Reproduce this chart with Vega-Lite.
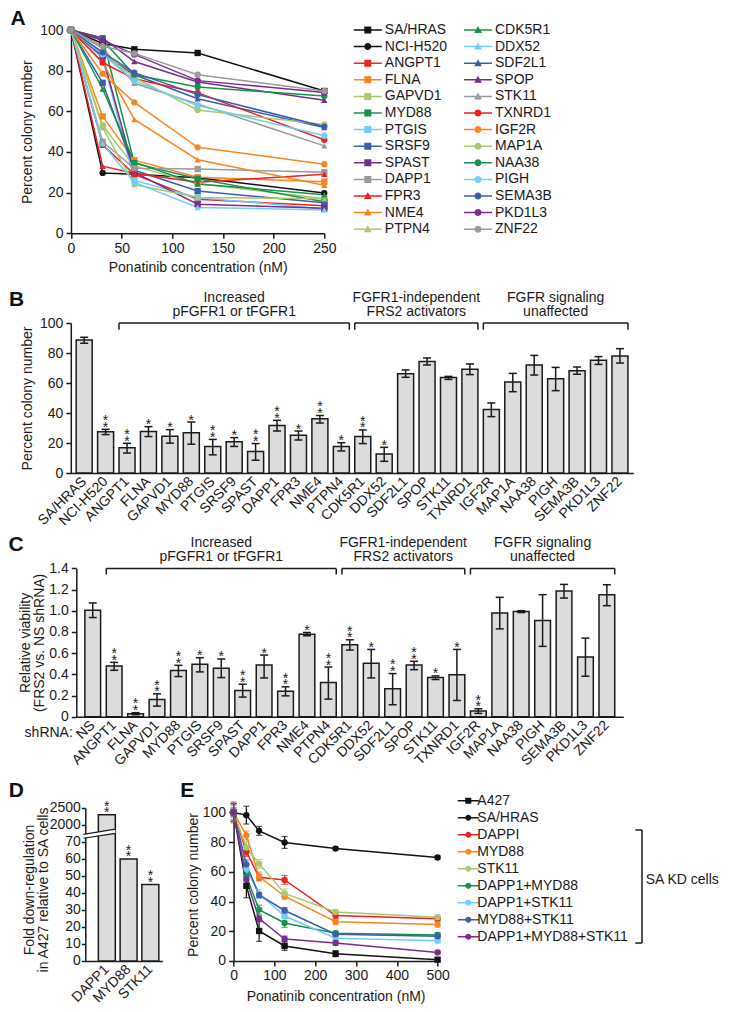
{
"$schema":"https://vega.github.io/schema/vega-lite/v6.json",
"padding":{"left":8.3,"top":7,"right":0,"bottom":0},
"bounds":"flush",
"spacing":86,
"resolve":{"scale":{"color":"independent","shape":"independent","fill":"independent"}},
"config":{
 "view":{"stroke":null},
 "font":"Liberation Sans",
 "axis":{"labelFont":"Liberation Sans","titleFont":"Liberation Sans","labelFontSize":14,"titleFontSize":14,"titleFontWeight":"normal","labelColor":"#1a1a1a","titleColor":"#1a1a1a","domainColor":"#1a1a1a","tickColor":"#1a1a1a","domainWidth":1.5,"tickWidth":1.5,"tickSize":5,"grid":false,"labelPadding":3,"labelFlush":false,"labelOverlap":false,"titleBaseline":"middle","titleLineHeight":14},
 "legend":{"labelFont":"Liberation Sans","labelFontSize":14,"labelColor":"#1a1a1a"},
 "text":{"font":"Liberation Sans","fontSize":14,"color":"#1a1a1a"}
},
"vconcat":[
{
 "width":257,"height":203.3,
 "data":{"values":[
  {"s":"SA/HRAS","c":0,"v":100},{"s":"SA/HRAS","c":31.25,"v":93.4},{"s":"SA/HRAS","c":62.5,"v":90.5},{"s":"SA/HRAS","c":125,"v":88.7},{"s":"SA/HRAS","c":250,"v":70},
  {"s":"NCI-H520","c":0,"v":100},{"s":"NCI-H520","c":31.25,"v":29.7},{"s":"NCI-H520","c":62.5,"v":29},{"s":"NCI-H520","c":125,"v":27.3},{"s":"NCI-H520","c":250,"v":19.8},
  {"s":"ANGPT1","c":0,"v":100},{"s":"ANGPT1","c":31.25,"v":43.5},{"s":"ANGPT1","c":62.5,"v":29},{"s":"ANGPT1","c":125,"v":16.8},{"s":"ANGPT1","c":250,"v":13.5},
  {"s":"FLNA","c":0,"v":100},{"s":"FLNA","c":31.25,"v":57.5},{"s":"FLNA","c":62.5,"v":36},{"s":"FLNA","c":125,"v":27.6},{"s":"FLNA","c":250,"v":25.4},
  {"s":"GAPVD1","c":0,"v":100},{"s":"GAPVD1","c":31.25,"v":53},{"s":"GAPVD1","c":62.5,"v":33},{"s":"GAPVD1","c":125,"v":24.5},{"s":"GAPVD1","c":250,"v":17},
  {"s":"MYD88","c":0,"v":100},{"s":"MYD88","c":31.25,"v":96},{"s":"MYD88","c":62.5,"v":34.5},{"s":"MYD88","c":125,"v":26.8},{"s":"MYD88","c":250,"v":15.5},
  {"s":"PTGIS","c":0,"v":100},{"s":"PTGIS","c":31.25,"v":86},{"s":"PTGIS","c":62.5,"v":26},{"s":"PTGIS","c":125,"v":17.6},{"s":"PTGIS","c":250,"v":12},
  {"s":"SRSF9","c":0,"v":100},{"s":"SRSF9","c":31.25,"v":74},{"s":"SRSF9","c":62.5,"v":31},{"s":"SRSF9","c":125,"v":20.8},{"s":"SRSF9","c":250,"v":15},
  {"s":"SPAST","c":0,"v":100},{"s":"SPAST","c":31.25,"v":87},{"s":"SPAST","c":62.5,"v":30},{"s":"SPAST","c":125,"v":14.3},{"s":"SPAST","c":250,"v":12.3},
  {"s":"DAPP1","c":0,"v":100},{"s":"DAPP1","c":31.25,"v":45},{"s":"DAPP1","c":62.5,"v":32},{"s":"DAPP1","c":125,"v":31.6},{"s":"DAPP1","c":250,"v":30},
  {"s":"FPR3","c":0,"v":100},{"s":"FPR3","c":31.25,"v":33},{"s":"FPR3","c":62.5,"v":29.5},{"s":"FPR3","c":125,"v":25.1},{"s":"FPR3","c":250,"v":29},
  {"s":"NME4","c":0,"v":100},{"s":"NME4","c":31.25,"v":84},{"s":"NME4","c":62.5,"v":56},{"s":"NME4","c":125,"v":36.2},{"s":"NME4","c":250,"v":23.6},
  {"s":"PTPN4","c":0,"v":100},{"s":"PTPN4","c":31.25,"v":52},{"s":"PTPN4","c":62.5,"v":24},{"s":"PTPN4","c":125,"v":17.6},{"s":"PTPN4","c":250,"v":17},
  {"s":"CDK5R1","c":0,"v":100},{"s":"CDK5R1","c":31.25,"v":71},{"s":"CDK5R1","c":62.5,"v":35},{"s":"CDK5R1","c":125,"v":24.3},{"s":"CDK5R1","c":250,"v":19},
  {"s":"DDX52","c":0,"v":100},{"s":"DDX52","c":31.25,"v":44},{"s":"DDX52","c":62.5,"v":25},{"s":"DDX52","c":125,"v":12.7},{"s":"DDX52","c":250,"v":11.5},
  {"s":"SDF2L1","c":0,"v":100},{"s":"SDF2L1","c":31.25,"v":88},{"s":"SDF2L1","c":62.5,"v":78},{"s":"SDF2L1","c":125,"v":66.2},{"s":"SDF2L1","c":250,"v":52},
  {"s":"SPOP","c":0,"v":100},{"s":"SPOP","c":31.25,"v":96},{"s":"SPOP","c":62.5,"v":84.5},{"s":"SPOP","c":125,"v":74.4},{"s":"SPOP","c":250,"v":65.5},
  {"s":"STK11","c":0,"v":100},{"s":"STK11","c":31.25,"v":91},{"s":"STK11","c":62.5,"v":73.8},{"s":"STK11","c":125,"v":63.6},{"s":"STK11","c":250,"v":43},
  {"s":"TXNRD1","c":0,"v":100},{"s":"TXNRD1","c":31.25,"v":84},{"s":"TXNRD1","c":62.5,"v":76},{"s":"TXNRD1","c":125,"v":69.1},{"s":"TXNRD1","c":250,"v":46},
  {"s":"IGF2R","c":0,"v":100},{"s":"IGF2R","c":31.25,"v":78.5},{"s":"IGF2R","c":62.5,"v":64.4},{"s":"IGF2R","c":125,"v":42.3},{"s":"IGF2R","c":250,"v":34},
  {"s":"MAP1A","c":0,"v":100},{"s":"MAP1A","c":31.25,"v":89},{"s":"MAP1A","c":62.5,"v":76.5},{"s":"MAP1A","c":125,"v":60.7},{"s":"MAP1A","c":250,"v":53.5},
  {"s":"NAA38","c":0,"v":100},{"s":"NAA38","c":31.25,"v":95},{"s":"NAA38","c":62.5,"v":78},{"s":"NAA38","c":125,"v":72},{"s":"NAA38","c":250,"v":67.5},
  {"s":"PIGH","c":0,"v":100},{"s":"PIGH","c":31.25,"v":88},{"s":"PIGH","c":62.5,"v":75},{"s":"PIGH","c":125,"v":62.9},{"s":"PIGH","c":250,"v":48},
  {"s":"SEMA3B","c":0,"v":100},{"s":"SEMA3B","c":31.25,"v":89},{"s":"SEMA3B","c":62.5,"v":79},{"s":"SEMA3B","c":125,"v":68.2},{"s":"SEMA3B","c":250,"v":52.5},
  {"s":"PKD1L3","c":0,"v":100},{"s":"PKD1L3","c":31.25,"v":95},{"s":"PKD1L3","c":62.5,"v":88},{"s":"PKD1L3","c":125,"v":75.1},{"s":"PKD1L3","c":250,"v":69.3},
  {"s":"ZNF22","c":0,"v":100},{"s":"ZNF22","c":31.25,"v":92},{"s":"ZNF22","c":62.5,"v":88.5},{"s":"ZNF22","c":125,"v":78},{"s":"ZNF22","c":250,"v":70}
 ]},
 "resolve":{"scale":{"shape":"independent","fill":"independent"}},
 "layer":[
  {"mark":{"type":"line","strokeWidth":1.5},
   "encoding":{
    "x":{"field":"c","type":"quantitative","scale":{"domain":[0,250],"range":[3.7,257],"nice":false,"zero":false},"axis":{"values":[0,50,100,150,200,250],"tickCount":20,"title":"Ponatinib concentration (nM)","titleY":34}},
    "y":{"field":"v","type":"quantitative","scale":{"domain":[0,100],"nice":false},"axis":{"values":[0,20,40,60,80,100],"tickCount":20,"offset":-3.7,"title":"Percent colony number","titleX":-43.2,"titleY":101.65}},
    "color":{"field":"s","type":"nominal","legend":null,"scale":{"domain":["SA/HRAS","NCI-H520","ANGPT1","FLNA","GAPVD1","MYD88","PTGIS","SRSF9","SPAST","DAPP1","FPR3","NME4","PTPN4","CDK5R1","DDX52","SDF2L1","SPOP","STK11","TXNRD1","IGF2R","MAP1A","NAA38","PIGH","SEMA3B","PKD1L3","ZNF22"],"range":["#111111","#111111","#ed2024","#f7861f","#a9c96d","#16924a","#72cdf4","#3c5da8","#7a2c8c","#9a9a9a","#ed2024","#f7861f","#a9c96d","#16924a","#72cdf4","#3c5da8","#7a2c8c","#9a9a9a","#ed2024","#f7861f","#a9c96d","#16924a","#72cdf4","#3c5da8","#7a2c8c","#9a9a9a"]}}}},
  {"mark":{"type":"point","filled":true,"size":40,"opacity":1},
   "encoding":{
    "x":{"field":"c","type":"quantitative"},
    "y":{"field":"v","type":"quantitative"},
    "color":{"field":"s","type":"nominal","legend":null},
    "shape":{"field":"s","type":"nominal","legend":null,"scale":{"domain":["SA/HRAS","NCI-H520","ANGPT1","FLNA","GAPVD1","MYD88","PTGIS","SRSF9","SPAST","DAPP1","FPR3","NME4","PTPN4","CDK5R1","DDX52","SDF2L1","SPOP","STK11","TXNRD1","IGF2R","MAP1A","NAA38","PIGH","SEMA3B","PKD1L3","ZNF22"],"range":["square","circle","square","square","square","square","square","square","square","square","triangle-up","triangle-up","triangle-up","triangle-up","triangle-up","triangle-up","triangle-up","triangle-up","circle","circle","circle","circle","circle","circle","circle","circle"]}}}},
  {"transform":[{"filter":"false"}],
   "mark":{"type":"point","filled":true,"opacity":1,"strokeWidth":0},
   "encoding":{
    "x":{"field":"c","type":"quantitative"},
    "y":{"field":"v","type":"quantitative"},
    "fill":{"field":"s","type":"nominal","scale":{"domain":["SA/HRAS","NCI-H520","ANGPT1","FLNA","GAPVD1","MYD88","PTGIS","SRSF9","SPAST","DAPP1","FPR3","NME4","PTPN4","CDK5R1","DDX52","SDF2L1","SPOP","STK11","TXNRD1","IGF2R","MAP1A","NAA38","PIGH","SEMA3B","PKD1L3","ZNF22"],"range":["#111111","#111111","#ed2024","#f7861f","#a9c96d","#16924a","#72cdf4","#3c5da8","#7a2c8c","#9a9a9a","#ed2024","#f7861f","#a9c96d","#16924a","#72cdf4","#3c5da8","#7a2c8c","#9a9a9a","#ed2024","#f7861f","#a9c96d","#16924a","#72cdf4","#3c5da8","#7a2c8c","#9a9a9a"]},
      "legend":{"orient":"none","legendX":293.5,"legendY":-7,"columns":2,"title":null,"symbolSize":49,"symbolStrokeWidth":0,"labelOffset":10,"rowPadding":2.6,"columnPadding":16.2,"symbolOpacity":1}},
    "shape":{"field":"s","type":"nominal","scale":{"domain":["SA/HRAS","NCI-H520","ANGPT1","FLNA","GAPVD1","MYD88","PTGIS","SRSF9","SPAST","DAPP1","FPR3","NME4","PTPN4","CDK5R1","DDX52","SDF2L1","SPOP","STK11","TXNRD1","IGF2R","MAP1A","NAA38","PIGH","SEMA3B","PKD1L3","ZNF22"],"range":["M-4,-0.21H4V0.21H-4ZM-1,-1H1V1H-1Z","M-4,-0.21H4V0.21H-4ZM1,0A1,1,0,1,1,-1,0A1,1,0,1,1,1,0Z","M-4,-0.21H4V0.21H-4ZM-1,-1H1V1H-1Z","M-4,-0.21H4V0.21H-4ZM-1,-1H1V1H-1Z","M-4,-0.21H4V0.21H-4ZM-1,-1H1V1H-1Z","M-4,-0.21H4V0.21H-4ZM-1,-1H1V1H-1Z","M-4,-0.21H4V0.21H-4ZM-1,-1H1V1H-1Z","M-4,-0.21H4V0.21H-4ZM-1,-1H1V1H-1Z","M-4,-0.21H4V0.21H-4ZM-1,-1H1V1H-1Z","M-4,-0.21H4V0.21H-4ZM-1,-1H1V1H-1Z","M-4,-0.21H4V0.21H-4ZM0,-1.15L1.1,0.85H-1.1Z","M-4,-0.21H4V0.21H-4ZM0,-1.15L1.1,0.85H-1.1Z","M-4,-0.21H4V0.21H-4ZM0,-1.15L1.1,0.85H-1.1Z","M-4,-0.21H4V0.21H-4ZM0,-1.15L1.1,0.85H-1.1Z","M-4,-0.21H4V0.21H-4ZM0,-1.15L1.1,0.85H-1.1Z","M-4,-0.21H4V0.21H-4ZM0,-1.15L1.1,0.85H-1.1Z","M-4,-0.21H4V0.21H-4ZM0,-1.15L1.1,0.85H-1.1Z","M-4,-0.21H4V0.21H-4ZM0,-1.15L1.1,0.85H-1.1Z","M-4,-0.21H4V0.21H-4ZM1,0A1,1,0,1,1,-1,0A1,1,0,1,1,1,0Z","M-4,-0.21H4V0.21H-4ZM1,0A1,1,0,1,1,-1,0A1,1,0,1,1,1,0Z","M-4,-0.21H4V0.21H-4ZM1,0A1,1,0,1,1,-1,0A1,1,0,1,1,1,0Z","M-4,-0.21H4V0.21H-4ZM1,0A1,1,0,1,1,-1,0A1,1,0,1,1,1,0Z","M-4,-0.21H4V0.21H-4ZM1,0A1,1,0,1,1,-1,0A1,1,0,1,1,1,0Z","M-4,-0.21H4V0.21H-4ZM1,0A1,1,0,1,1,-1,0A1,1,0,1,1,1,0Z","M-4,-0.21H4V0.21H-4ZM1,0A1,1,0,1,1,-1,0A1,1,0,1,1,1,0Z","M-4,-0.21H4V0.21H-4ZM1,0A1,1,0,1,1,-1,0A1,1,0,1,1,1,0Z"]},
      "legend":{"orient":"none","legendX":293.5,"legendY":-7,"columns":2,"title":null,"symbolSize":49,"symbolStrokeWidth":0,"labelOffset":10,"rowPadding":2.6,"columnPadding":16.2,"symbolOpacity":1}}
   }},
  {"data":{"values":[{}]},"mark":{"type":"text","align":"left","baseline":"alphabetic","fontSize":21,"fontWeight":"bold","color":"#111111"},
   "encoding":{"x":{"datum":-59.7},"y":{"datum":102.5},"text":{"value":"A"}}}
 ]
},
{
 "width":566,"height":153,
 "data":{"values":[
    {"g":"SA/HRAS","v":88.7,"lo":86.5,"hi":90.5,"n":0},
    {"g":"NCI-H520","v":27.5,"lo":25.6,"hi":29.1,"n":2},
    {"g":"ANGPT1","v":16.8,"lo":13.3,"hi":19.8,"n":2},
    {"g":"FLNA","v":27.6,"lo":24.3,"hi":30.9,"n":1},
    {"g":"GAPVD1","v":24.5,"lo":19.9,"hi":28.9,"n":1},
    {"g":"MYD88","v":26.8,"lo":19.2,"hi":34.0,"n":1},
    {"g":"PTGIS","v":17.6,"lo":12.1,"hi":22.4,"n":2},
    {"g":"SRSF9","v":20.8,"lo":17.7,"hi":23.6,"n":1},
    {"g":"SPAST","v":14.3,"lo":8.5,"hi":19.6,"n":2},
    {"g":"DAPP1","v":31.6,"lo":28.0,"hi":35.1,"n":2},
    {"g":"FPR3","v":25.1,"lo":22.0,"hi":28.0,"n":1},
    {"g":"NME4","v":36.2,"lo":33.3,"hi":38.4,"n":2},
    {"g":"PTPN4","v":17.6,"lo":14.7,"hi":20.2,"n":1},
    {"g":"CDK5R1","v":24.3,"lo":19.6,"hi":28.7,"n":2},
    {"g":"DDX52","v":12.7,"lo":7.8,"hi":17.1,"n":1},
    {"g":"SDF2L1","v":66.2,"lo":63.8,"hi":68.7,"n":0},
    {"g":"SPOP","v":74.4,"lo":72.0,"hi":76.7,"n":0},
    {"g":"STK11","v":63.6,"lo":62.4,"hi":64.4,"n":0},
    {"g":"TXNRD1","v":69.1,"lo":65.6,"hi":72.7,"n":0},
    {"g":"IGF2R","v":42.3,"lo":37.6,"hi":46.7,"n":0},
    {"g":"MAP1A","v":60.7,"lo":54.2,"hi":66.4,"n":0},
    {"g":"NAA38","v":72.0,"lo":65.3,"hi":78.4,"n":0},
    {"g":"PIGH","v":62.9,"lo":54.9,"hi":70.4,"n":0},
    {"g":"SEMA3B","v":68.2,"lo":65.8,"hi":70.7,"n":0},
    {"g":"PKD1L3","v":75.1,"lo":72.4,"hi":77.6,"n":0},
    {"g":"ZNF22","v":78.0,"lo":73.3,"hi":82.9,"n":0}
 ]},
 "layer":[
  {"mark":{"type":"bar","fill":"#dcdcdc","stroke":"#1a1a1a","strokeWidth":1.5},
   "encoding":{
    "x":{"field":"g","type":"nominal","sort":null,"scale":{"domain":["SA/HRAS","NCI-H520","ANGPT1","FLNA","GAPVD1","MYD88","PTGIS","SRSF9","SPAST","DAPP1","FPR3","NME4","PTPN4","CDK5R1","DDX52","SDF2L1","SPOP","STK11","TXNRD1","IGF2R","MAP1A","NAA38","PIGH","SEMA3B","PKD1L3","ZNF22"],"range":[3.5,566],"paddingInner":0.253,"paddingOuter":0.25},"axis":{"title":null,"labelAngle":-45,"labelAlign":"right","labelBaseline":"middle","ticks":false,"labelPadding":6}},
    "y":{"field":"v","type":"quantitative","scale":{"domain":[0,100],"range":[153,3],"nice":false},"axis":{"offset":-3.5,"values":[0,20,40,60,80,100],"tickCount":20,"labelOverlap":false,"title":"Percent colony number","titleX":-43,"titleY":78}}}},
  {"mark":{"type":"rule","strokeWidth":1.5,"color":"#1a1a1a"},
   "encoding":{"x":{"field":"g","type":"nominal"},"y":{"field":"lo","type":"quantitative"},"y2":{"field":"hi"}}},
  {"mark":{"type":"tick","size":8,"thickness":1.5,"color":"#1a1a1a","opacity":1},
   "encoding":{"x":{"field":"g","type":"nominal"},"y":{"field":"lo","type":"quantitative"}}},
  {"mark":{"type":"tick","size":8,"thickness":1.5,"color":"#1a1a1a","opacity":1},
   "encoding":{"x":{"field":"g","type":"nominal"},"y":{"field":"hi","type":"quantitative"}}},
  {"transform":[{"filter":"datum.n >= 1"}],"mark":{"type":"text","baseline":"bottom","dy":5.5},
   "encoding":{"x":{"field":"g","type":"nominal"},"y":{"field":"hi","type":"quantitative"},"text":{"value":"*"}}},
  {"transform":[{"filter":"datum.n >= 2"}],"mark":{"type":"text","baseline":"bottom","dy":-1.2},
   "encoding":{"x":{"field":"g","type":"nominal"},"y":{"field":"hi","type":"quantitative"},"text":{"value":"*"}}},
  {"data":{"values":[{"a":"ANGPT1","b":"PTPN4"},{"a":"CDK5R1","b":"TXNRD1"},{"a":"IGF2R","b":"ZNF22"}]},
   "mark":{"type":"rule","strokeWidth":1.5,"color":"#1a1a1a"},"encoding":{"x":{"field":"a","type":"nominal","bandPosition":0},"x2":{"field":"b","bandPosition":1},"y":{"datum":100}}},
  {"data":{"values":[{"a":"ANGPT1","b":"PTPN4"},{"a":"CDK5R1","b":"TXNRD1"},{"a":"IGF2R","b":"ZNF22"}]},
   "mark":{"type":"rule","strokeWidth":1.5,"color":"#1a1a1a"},"encoding":{"x":{"field":"a","type":"nominal","bandPosition":0},"y":{"datum":100},"y2":{"datum":95.5}}},
  {"data":{"values":[{"a":"ANGPT1","b":"PTPN4"},{"a":"CDK5R1","b":"TXNRD1"},{"a":"IGF2R","b":"ZNF22"}]},
   "mark":{"type":"rule","strokeWidth":1.5,"color":"#1a1a1a"},"encoding":{"x":{"field":"b","type":"nominal","bandPosition":1},"y":{"datum":100},"y2":{"datum":95.5}}},
  {"data":{"values":[{"m":"SRSF9","t":["Increased","pFGFR1 or tFGFR1"]},{"m":"PIGH","t":["FGFR signaling","unaffected"]}]},
   "mark":{"type":"text","baseline":"middle","lineHeight":14.5},"encoding":{"x":{"field":"m","type":"nominal","bandPosition":0.5},"y":{"datum":117},"text":{"field":"t"}}},
  {"data":{"values":[{"m":"SDF2L1","t":["FGFR1-independent","FRS2 activators"]}]},
   "mark":{"type":"text","baseline":"middle","lineHeight":14.5},"encoding":{"x":{"field":"m","type":"nominal","bandPosition":1.17},"y":{"datum":117},"text":{"field":"t"}}},
  {"data":{"values":[{}]},"mark":{"type":"text","align":"left","baseline":"alphabetic","fontSize":21,"fontWeight":"bold","color":"#111111"},
   "encoding":{"x":{"datum":"SA/HRAS","bandPosition":-4.2},"y":{"datum":111.5},"text":{"value":"B"}}}
 ]
},
{
 "width":556,"height":157.7,
 "data":{"values":[
    {"g":"NS","v":1.005,"lo":0.936,"hi":1.074,"n":0},
    {"g":"ANGPT1","v":0.479,"lo":0.438,"hi":0.513,"n":2},
    {"g":"FLNA","v":0.028,"lo":0.019,"hi":0.038,"n":2},
    {"g":"GAPVD1","v":0.163,"lo":0.10,"hi":0.216,"n":2},
    {"g":"MYD88","v":0.435,"lo":0.379,"hi":0.485,"n":2},
    {"g":"PTGIS","v":0.495,"lo":0.423,"hi":0.557,"n":1},
    {"g":"SRSF9","v":0.457,"lo":0.369,"hi":0.545,"n":1},
    {"g":"SPAST","v":0.247,"lo":0.185,"hi":0.307,"n":2},
    {"g":"DAPP1","v":0.488,"lo":0.366,"hi":0.582,"n":1},
    {"g":"FPR3","v":0.241,"lo":0.197,"hi":0.282,"n":2},
    {"g":"NME4","v":0.779,"lo":0.764,"hi":0.795,"n":1},
    {"g":"PTPN4","v":0.322,"lo":0.166,"hi":0.469,"n":2},
    {"g":"CDK5R1","v":0.679,"lo":0.629,"hi":0.726,"n":2},
    {"g":"DDX52","v":0.504,"lo":0.366,"hi":0.635,"n":1},
    {"g":"SDF2L1","v":0.263,"lo":0.113,"hi":0.407,"n":2},
    {"g":"SPOP","v":0.488,"lo":0.444,"hi":0.523,"n":2},
    {"g":"STK11","v":0.369,"lo":0.351,"hi":0.385,"n":1},
    {"g":"TXNRD1","v":0.397,"lo":0.153,"hi":0.635,"n":1},
    {"g":"IGF2R","v":0.053,"lo":0.031,"hi":0.075,"n":2},
    {"g":"MAP1A","v":0.98,"lo":0.829,"hi":1.127,"n":0},
    {"g":"NAA38","v":0.992,"lo":0.983,"hi":1.0,"n":0},
    {"g":"PIGH","v":0.908,"lo":0.664,"hi":1.152,"n":0},
    {"g":"SEMA3B","v":1.186,"lo":1.12,"hi":1.249,"n":0},
    {"g":"PKD1L3","v":0.563,"lo":0.382,"hi":0.742,"n":0},
    {"g":"ZNF22","v":1.152,"lo":1.048,"hi":1.246,"n":0}
 ]},
 "layer":[
  {"mark":{"type":"bar","fill":"#dcdcdc","stroke":"#1a1a1a","strokeWidth":1.5},
   "encoding":{
    "x":{"field":"g","type":"nominal","sort":null,"scale":{"domain":["NS","ANGPT1","FLNA","GAPVD1","MYD88","PTGIS","SRSF9","SPAST","DAPP1","FPR3","NME4","PTPN4","CDK5R1","DDX52","SDF2L1","SPOP","STK11","TXNRD1","IGF2R","MAP1A","NAA38","PIGH","SEMA3B","PKD1L3","ZNF22"],"range":[9,556],"paddingInner":0.266,"paddingOuter":0.4},"axis":{"title":"shRNA:","titleX":5,"titleY":16,"titleAlign":"right","titleAngle":0,"labelAngle":-45,"labelAlign":"right","labelBaseline":"middle","ticks":false,"labelPadding":6}},
    "y":{"field":"v","type":"quantitative","scale":{"domain":[0,1.4],"range":[157.7,9.4],"nice":false},"axis":{"offset":-9,"values":[0,0.2,0.4,0.6,0.8,1.0,1.2,1.4],"tickCount":20,"labelOverlap":false,"labelExpr":"datum.value == 0 ? '0' : format(datum.value, '.1f')","title":["Relative viability","(FRS2 vs. NS shRNA)"],"titleX":-51,"titleY":83.4}}}},
  {"mark":{"type":"rule","strokeWidth":1.5,"color":"#1a1a1a"},
   "encoding":{"x":{"field":"g","type":"nominal"},"y":{"field":"lo","type":"quantitative"},"y2":{"field":"hi"}}},
  {"mark":{"type":"tick","size":8,"thickness":1.5,"color":"#1a1a1a","opacity":1},
   "encoding":{"x":{"field":"g","type":"nominal"},"y":{"field":"lo","type":"quantitative"}}},
  {"mark":{"type":"tick","size":8,"thickness":1.5,"color":"#1a1a1a","opacity":1},
   "encoding":{"x":{"field":"g","type":"nominal"},"y":{"field":"hi","type":"quantitative"}}},
  {"transform":[{"filter":"datum.n >= 1"}],"mark":{"type":"text","baseline":"bottom","dy":5.5},
   "encoding":{"x":{"field":"g","type":"nominal"},"y":{"field":"hi","type":"quantitative"},"text":{"value":"*"}}},
  {"transform":[{"filter":"datum.n >= 2"}],"mark":{"type":"text","baseline":"bottom","dy":-1.2},
   "encoding":{"x":{"field":"g","type":"nominal"},"y":{"field":"hi","type":"quantitative"},"text":{"value":"*"}}},
  {"data":{"values":[{"a":"ANGPT1","b":"PTPN4"},{"a":"CDK5R1","b":"TXNRD1"},{"a":"IGF2R","b":"ZNF22"}]},
   "mark":{"type":"rule","strokeWidth":1.5,"color":"#1a1a1a"},"encoding":{"x":{"field":"a","type":"nominal","bandPosition":0},"x2":{"field":"b","bandPosition":1},"y":{"datum":1.4}}},
  {"data":{"values":[{"a":"ANGPT1","b":"PTPN4"},{"a":"CDK5R1","b":"TXNRD1"},{"a":"IGF2R","b":"ZNF22"}]},
   "mark":{"type":"rule","strokeWidth":1.5,"color":"#1a1a1a"},"encoding":{"x":{"field":"a","type":"nominal","bandPosition":0},"y":{"datum":1.4},"y2":{"datum":1.343}}},
  {"data":{"values":[{"a":"ANGPT1","b":"PTPN4"},{"a":"CDK5R1","b":"TXNRD1"},{"a":"IGF2R","b":"ZNF22"}]},
   "mark":{"type":"rule","strokeWidth":1.5,"color":"#1a1a1a"},"encoding":{"x":{"field":"b","type":"nominal","bandPosition":1},"y":{"datum":1.4},"y2":{"datum":1.343}}},
  {"data":{"values":[{"m":"SRSF9","t":["Increased","pFGFR1 or tFGFR1"]},{"m":"PIGH","t":["FGFR signaling","unaffected"]}]},
   "mark":{"type":"text","baseline":"middle","lineHeight":14.5},"encoding":{"x":{"field":"m","type":"nominal","bandPosition":0.5},"y":{"datum":1.643},"text":{"field":"t"}}},
  {"data":{"values":[{"m":"SDF2L1","t":["FGFR1-independent","FRS2 activators"]}]},
   "mark":{"type":"text","baseline":"middle","lineHeight":14.5},"encoding":{"x":{"field":"m","type":"nominal","bandPosition":1.17},"y":{"datum":1.643},"text":{"field":"t"}}},
  {"data":{"values":[{}]},"mark":{"type":"text","align":"left","baseline":"alphabetic","fontSize":21,"fontWeight":"bold","color":"#111111"},
   "encoding":{"x":{"datum":"NS","bandPosition":-4.85},"y":{"datum":1.567},"text":{"value":"C"}}}
 ]
},
{
 "width":370.3,"height":158,
 "resolve":{"scale":{"x":"independent","y":"independent"},"axis":{"x":"independent","y":"independent"}},
 "layer":[
  {"data":{"values":[
     {"g":"DAPP1","v":2300,"n":2},
     {"g":"MYD88","v":60,"n":2},
     {"g":"STK11","v":45,"n":2}
   ]},
   "layer":[
    {"mark":{"type":"bar","fill":"#dcdcdc","stroke":"#1a1a1a","strokeWidth":1.5},
     "encoding":{
      "x":{"field":"g","type":"nominal","sort":null,"scale":{"domain":["DAPP1","MYD88","STK11"],"range":[18,95],"paddingInner":0.22,"paddingOuter":0.38,"align":0.79},"axis":{"orient":"bottom","title":null,"labelAngle":-45,"labelAlign":"right","labelBaseline":"middle","ticks":false,"labelPadding":6}},
      "y":{"field":"v","type":"quantitative","scale":{"domain":[0,75,2000,2500],"range":[158,30.5,21.8,5],"nice":false,"zero":false},"axis":{"orient":"left","offset":-18,"values":[0,10,20,30,40,50,60,70,2000,2500],"format":"d","tickCount":20,"tickSize":4,"labelPadding":1,"labelOverlap":false,"title":["Fold down-regulation","in A427 relative to SA cells"],"titleX":-55.5,"titleY":86.5}}}},
    {"transform":[{"filter":"datum.n >= 1"}],"mark":{"type":"text","baseline":"bottom","dy":5.5},
     "encoding":{"x":{"field":"g","type":"nominal"},"y":{"field":"v","type":"quantitative"},"text":{"value":"*"}}},
    {"transform":[{"filter":"datum.n >= 2"}],"mark":{"type":"text","baseline":"bottom","dy":-1.2},
     "encoding":{"x":{"field":"g","type":"nominal"},"y":{"field":"v","type":"quantitative"},"text":{"value":"*"}}},
    {"data":{"values":[{}]},"mark":{"type":"rule","stroke":"white","strokeWidth":3.5},
     "encoding":{"x":{"datum":"DAPP1","bandPosition":-0.88},"x2":{"datum":"DAPP1","bandPosition":1},"y":{"datum":73.4},"y2":{"datum":573}}},
    {"data":{"values":[{}]},"mark":{"type":"rule","stroke":"#1a1a1a","strokeWidth":1.2},
     "encoding":{"x":{"datum":"DAPP1","bandPosition":-0.88},"x2":{"datum":"DAPP1","bandPosition":1},"y":{"datum":72.2},"y2":{"datum":120}}},
    {"data":{"values":[{}]},"mark":{"type":"rule","stroke":"#1a1a1a","strokeWidth":1.2},
     "encoding":{"x":{"datum":"DAPP1","bandPosition":-0.88},"x2":{"datum":"DAPP1","bandPosition":1},"y":{"datum":74.5},"y2":{"datum":1026}}},
    {"data":{"values":[{}]},"mark":{"type":"text","align":"left","baseline":"alphabetic","fontSize":21,"fontWeight":"bold","color":"#111111"},
     "encoding":{"x":{"datum":"DAPP1","bandPosition":-5.28},"y":{"datum":2827},"text":{"value":"D"}}}
   ]},
  {"data":{"values":[
      {"s":"A427","c":0,"v":100,"e":3},{"s":"A427","c":31.25,"v":50.6,"e":8},{"s":"A427","c":62.5,"v":20.2,"e":7},{"s":"A427","c":125,"v":10.1,"e":3},{"s":"A427","c":250,"v":4.9,"e":2},{"s":"A427","c":500,"v":0.9,"e":1},
      {"s":"SA/HRAS","c":0,"v":100,"e":1},{"s":"SA/HRAS","c":31.25,"v":98.2,"e":6},{"s":"SA/HRAS","c":62.5,"v":87.6,"e":3},{"s":"SA/HRAS","c":125,"v":79.8,"e":4},{"s":"SA/HRAS","c":250,"v":75.7,"e":1},{"s":"SA/HRAS","c":500,"v":69.7,"e":1},
      {"s":"DAPPI","c":0,"v":100,"e":7},{"s":"DAPPI","c":31.25,"v":73.5,"e":3},{"s":"DAPPI","c":62.5,"v":56.4,"e":2},{"s":"DAPPI","c":125,"v":54.6,"e":3},{"s":"DAPPI","c":250,"v":30.6,"e":2},{"s":"DAPPI","c":500,"v":28.5,"e":1.5},
      {"s":"MYD88","c":0,"v":100,"e":6},{"s":"MYD88","c":31.25,"v":84.5,"e":3},{"s":"MYD88","c":62.5,"v":56.8,"e":3},{"s":"MYD88","c":125,"v":43.6,"e":2},{"s":"MYD88","c":250,"v":26.5,"e":2},{"s":"MYD88","c":500,"v":24.5,"e":1.5},
      {"s":"STK11","c":0,"v":100,"e":6},{"s":"STK11","c":31.25,"v":76.4,"e":4},{"s":"STK11","c":62.5,"v":65.4,"e":3},{"s":"STK11","c":125,"v":45.5,"e":3},{"s":"STK11","c":250,"v":33,"e":1.5},{"s":"STK11","c":500,"v":29.4,"e":1.5},
      {"s":"DAPP1+MYD88","c":0,"v":100,"e":6},{"s":"DAPP1+MYD88","c":31.25,"v":57,"e":3},{"s":"DAPP1+MYD88","c":62.5,"v":34.6,"e":3},{"s":"DAPP1+MYD88","c":125,"v":25.6,"e":3},{"s":"DAPP1+MYD88","c":250,"v":18.7,"e":1.5},{"s":"DAPP1+MYD88","c":500,"v":17.5,"e":1.5},
      {"s":"DAPP1+STK11","c":0,"v":100,"e":5},{"s":"DAPP1+STK11","c":31.25,"v":62,"e":4},{"s":"DAPP1+STK11","c":62.5,"v":45.2,"e":3},{"s":"DAPP1+STK11","c":125,"v":30.3,"e":3},{"s":"DAPP1+STK11","c":250,"v":15.3,"e":1.5},{"s":"DAPP1+STK11","c":500,"v":13.7,"e":1.5},
      {"s":"MYD88+STK11","c":0,"v":100,"e":5},{"s":"MYD88+STK11","c":31.25,"v":65,"e":3},{"s":"MYD88+STK11","c":62.5,"v":44.5,"e":2},{"s":"MYD88+STK11","c":125,"v":34,"e":2},{"s":"MYD88+STK11","c":250,"v":18,"e":1.5},{"s":"MYD88+STK11","c":500,"v":16.6,"e":1.5},
      {"s":"DAPP1+MYD88+STK11","c":0,"v":100,"e":6},{"s":"DAPP1+MYD88+STK11","c":31.25,"v":54.8,"e":3},{"s":"DAPP1+MYD88+STK11","c":62.5,"v":28.5,"e":2},{"s":"DAPP1+MYD88+STK11","c":125,"v":14.8,"e":2},{"s":"DAPP1+MYD88+STK11","c":250,"v":12.1,"e":1.5},{"s":"DAPP1+MYD88+STK11","c":500,"v":5.8,"e":1}
   ]},
   "resolve":{"scale":{"shape":"independent","fill":"independent"}},
   "layer":[
    {"mark":{"type":"line","strokeWidth":1.5},
     "encoding":{
      "x":{"field":"c","type":"quantitative","scale":{"domain":[0,500],"range":[166.3,370.3],"nice":false,"zero":false},"axis":{"orient":"bottom","values":[0,100,200,300,400,500],"tickCount":20,"labelOverlap":false,"title":"Ponatinib concentration (nM)","titleY":35.5}},
      "y":{"field":"v","type":"quantitative","scale":{"domain":[0,103],"range":[158,5],"nice":false},"axis":{"orient":"left","offset":-166.3,"values":[0,20,40,60,80,100],"tickCount":20,"labelOverlap":false,"title":"Percent colony number","titleX":-40,"titleY":81.5}},
      "color":{"field":"s","type":"nominal","legend":null,"scale":{"domain":["A427","SA/HRAS","DAPPI","MYD88","STK11","DAPP1+MYD88","DAPP1+STK11","MYD88+STK11","DAPP1+MYD88+STK11"],"range":["#111111","#111111","#ed2024","#f7861f","#a9c96d","#16924a","#72cdf4","#3c5da8","#7a2c8c"]}}}},
    {"mark":{"type":"errorbar","ticks":{"size":6,"thickness":1.2},"rule":{"strokeWidth":1.2}},
     "encoding":{"x":{"field":"c","type":"quantitative","title":"Ponatinib concentration (nM)"},"y":{"field":"v","type":"quantitative","title":"Percent colony number"},"yError":{"field":"e"},"color":{"field":"s","type":"nominal","legend":null}}},
    {"mark":{"type":"point","filled":true,"size":40,"opacity":1},
     "encoding":{"x":{"field":"c","type":"quantitative"},"y":{"field":"v","type":"quantitative"},"color":{"field":"s","type":"nominal","legend":null},
      "shape":{"field":"s","type":"nominal","legend":null,"scale":{"domain":["A427","SA/HRAS","DAPPI","MYD88","STK11","DAPP1+MYD88","DAPP1+STK11","MYD88+STK11","DAPP1+MYD88+STK11"],"range":["square","circle","circle","circle","circle","circle","circle","circle","circle"]}}}},
    {"transform":[{"filter":"false"}],
     "mark":{"type":"point","filled":true,"opacity":1,"strokeWidth":0},
     "encoding":{"x":{"field":"c","type":"quantitative"},"y":{"field":"v","type":"quantitative"},
      "fill":{"field":"s","type":"nominal","scale":{"domain":["A427","SA/HRAS","DAPPI","MYD88","STK11","DAPP1+MYD88","DAPP1+STK11","MYD88+STK11","DAPP1+MYD88+STK11"],"range":["#111111","#111111","#ed2024","#f7861f","#a9c96d","#16924a","#72cdf4","#3c5da8","#7a2c8c"]},
        "legend":{"orient":"none","legendX":394,"legendY":-9.3,"title":null,"symbolSize":36,"symbolStrokeWidth":0,"labelOffset":2,"rowPadding":3,"symbolOpacity":1}},
      "shape":{"field":"s","type":"nominal","scale":{"domain":["A427","SA/HRAS","DAPPI","MYD88","STK11","DAPP1+MYD88","DAPP1+STK11","MYD88+STK11","DAPP1+MYD88+STK11"],"range":["M-3.5,-0.25H3.5V0.25H-3.5ZM-1,-1H1V1H-1Z","M-3.5,-0.25H3.5V0.25H-3.5ZM1,0A1,1,0,1,1,-1,0A1,1,0,1,1,1,0Z","M-3.5,-0.25H3.5V0.25H-3.5ZM1,0A1,1,0,1,1,-1,0A1,1,0,1,1,1,0Z","M-3.5,-0.25H3.5V0.25H-3.5ZM1,0A1,1,0,1,1,-1,0A1,1,0,1,1,1,0Z","M-3.5,-0.25H3.5V0.25H-3.5ZM1,0A1,1,0,1,1,-1,0A1,1,0,1,1,1,0Z","M-3.5,-0.25H3.5V0.25H-3.5ZM1,0A1,1,0,1,1,-1,0A1,1,0,1,1,1,0Z","M-3.5,-0.25H3.5V0.25H-3.5ZM1,0A1,1,0,1,1,-1,0A1,1,0,1,1,1,0Z","M-3.5,-0.25H3.5V0.25H-3.5ZM1,0A1,1,0,1,1,-1,0A1,1,0,1,1,1,0Z","M-3.5,-0.25H3.5V0.25H-3.5ZM1,0A1,1,0,1,1,-1,0A1,1,0,1,1,1,0Z"]},
        "legend":{"orient":"none","legendX":394,"legendY":-9.3,"title":null,"symbolSize":36,"symbolStrokeWidth":0,"labelOffset":2,"rowPadding":3,"symbolOpacity":1}}
     }},
    {"data":{"values":[{}]},"mark":{"type":"rule","strokeWidth":1.5,"color":"#1a1a1a"},
     "encoding":{"x":{"datum":1001},"y":{"datum":88.2},"y2":{"datum":12.1}}},
    {"data":{"values":[{}]},"mark":{"type":"rule","strokeWidth":1.5,"color":"#1a1a1a"},
     "encoding":{"x":{"datum":984.6},"x2":{"datum":1001},"y":{"datum":88.2}}},
    {"data":{"values":[{}]},"mark":{"type":"rule","strokeWidth":1.5,"color":"#1a1a1a"},
     "encoding":{"x":{"datum":984.6},"x2":{"datum":1001},"y":{"datum":12.1}}},
    {"data":{"values":[{}]},"mark":{"type":"text","align":"left","baseline":"middle"},
     "encoding":{"x":{"datum":1010},"y":{"datum":54.3},"text":{"value":"SA KD cells"}}},
    {"data":{"values":[{}]},"mark":{"type":"text","align":"left","baseline":"alphabetic","fontSize":21,"fontWeight":"bold","color":"#111111"},
     "encoding":{"x":{"datum":-130.6},"y":{"datum":110.4},"text":{"value":"E"}}}
   ]}
 ]
}
]
}
